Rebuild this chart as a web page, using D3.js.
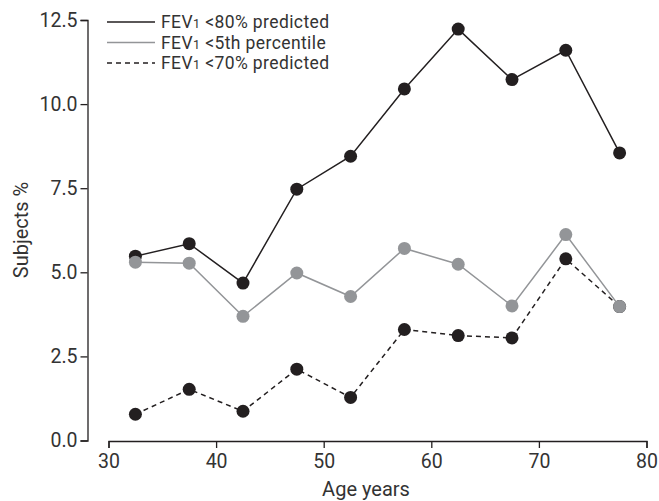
<!DOCTYPE html>
<html>
<head>
<meta charset="utf-8">
<script src="https://cdn.jsdelivr.net/npm/d3@7"></script>
<style>
  body { margin: 0; background: #fff; }
  svg { display: block; font-family: Roboto, "DejaVu Sans", sans-serif; }
</style>
</head>
<body>
<div id="chart"></div>
<script>
(function () {
  const ages = [32.5, 37.5, 42.5, 47.5, 52.5, 57.5, 62.5, 67.5, 72.5, 77.5];
  const fev80 = [5.48, 5.85, 4.68, 7.47, 8.45, 10.45, 12.23, 10.73, 11.6, 8.55];
  const fev5th = [5.3, 5.27, 3.69, 4.98, 4.28, 5.71, 5.24, 4.0, 6.12, 3.98];
  const fev70 = [0.78, 1.52, 0.87, 2.12, 1.28, 3.3, 3.12, 3.05, 5.4, 3.98];
  const xTicks = [30, 40, 50, 60, 70, 80];
  const yTicks = [0, 2.5, 5, 7.5, 10, 12.5];
  const legendRows = [
    { label: '<80% predicted', color: '#231f20', dash: null },
    { label: '<5th percentile', color: '#939598', dash: null },
    { label: '<70% predicted', color: '#231f20', dash: '5,4' },
  ];

  const w = 659, h = 501;
  const svg = d3.select('#chart').append('svg').attr('width', w).attr('height', h);
  const x = d3.scaleLinear().domain([30, 80]).range([108.5, 646.5]);
  const y = d3.scaleLinear().domain([0, 12.5]).range([440.5, 20]);

  // axes
  const yAxis = svg.append('g').attr('transform', 'translate(87.5,0)')
    .call(d3.axisLeft(y).tickValues(yTicks).tickFormat(d3.format('.1f')).tickSize(7).tickPadding(3));
  const xAxis = svg.append('g').attr('transform', 'translate(0,441)')
    .call(d3.axisBottom(x).tickValues(xTicks).tickSize(7).tickPadding(6));
  [yAxis, xAxis].forEach((a) => {
    a.selectAll('path, line').attr('stroke', '#231f20').attr('stroke-width', 1.3);
    a.selectAll('text').attr('fill', '#333').attr('font-size', 19.5).attr('font-family', 'Roboto, sans-serif');
  });

  svg.append('text').attr('x', 366).attr('y', 496).attr('text-anchor', 'middle')
    .attr('font-size', 20).attr('fill', '#333').text('Age years');
  svg.append('text').attr('transform', 'translate(28,230) rotate(-90)').attr('text-anchor', 'middle')
    .attr('font-size', 20).attr('fill', '#333').text('Subjects %');

  const line = d3.line().x((d) => x(d[0])).y((d) => y(d[1]));
  const series = [
    { vals: fev80, stroke: '#231f20', dash: null, fill: '#231f20' },
    { vals: fev70, stroke: '#231f20', dash: '5,4', fill: '#231f20' },
    { vals: fev5th, stroke: '#939598', dash: null, fill: '#939598' },
  ];
  series.forEach((s) => {
    const pts = ages.map((a, i) => [a, s.vals[i]]);
    svg.append('path').datum(pts).attr('d', line).attr('fill', 'none')
      .attr('stroke', s.stroke).attr('stroke-width', 1.5).attr('stroke-dasharray', s.dash);
    svg.append('g').selectAll('circle').data(pts).join('circle')
      .attr('cx', (d) => x(d[0])).attr('cy', (d) => y(d[1])).attr('r', 6.5).attr('fill', s.fill);
  });

  // legend
  const lg = svg.append('g').attr('transform', 'translate(107,22)');
  legendRows.forEach((r, i) => {
    const row = lg.append('g').attr('transform', `translate(0,${i * 20.5})`);
    row.append('line').attr('x1', 0).attr('x2', 48).attr('y1', 0).attr('y2', 0)
      .attr('stroke', r.color).attr('stroke-width', 1.5).attr('stroke-dasharray', r.dash);
    const t = row.append('text').attr('x', 54).attr('y', 6).attr('font-size', 17.5)
      .attr('letter-spacing', 0.4).attr('fill', '#333');
    t.append('tspan').text('FEV');
    t.append('tspan').attr('font-size', 12.5).text('1');
    t.append('tspan').text(' ' + r.label);
  });
})();
</script>
</body>
</html>
